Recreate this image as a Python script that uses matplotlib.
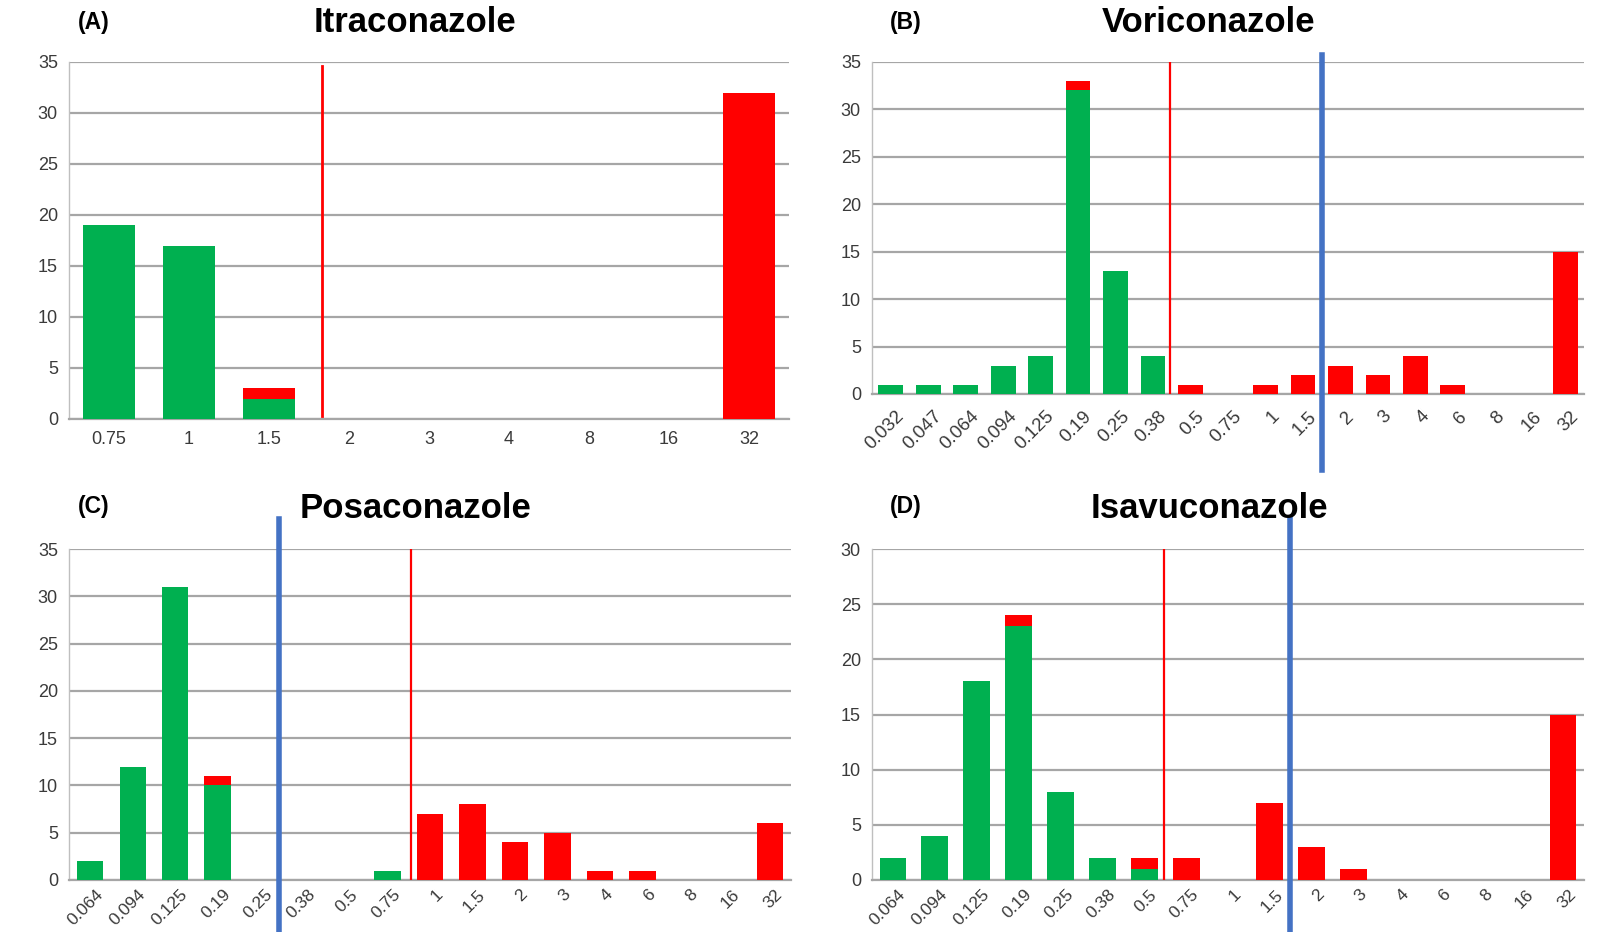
import matplotlib
matplotlib.use("Agg")
import matplotlib.pyplot as plt
import matplotlib.transforms as mtransforms
import numpy as np

plt.rcParams['font.family'] = ['Liberation Sans', 'DejaVu Sans']

GREEN = '#00B050'
RED = '#FF0000'
BLUE = '#4472C4'
GRID = '#A6A6A6'
TXT = '#3A3A3A'

# ---- data ----
itra_cats = ['0.75', '1', '1.5', '2', '3', '4', '8', '16', '32']
itra_green = [19, 17, 2, 0, 0, 0, 0, 0, 0]
itra_red = [0, 0, 1, 0, 0, 0, 0, 0, 32]

vori_cats = ['0.032', '0.047', '0.064', '0.094', '0.125', '0.19', '0.25', '0.38', '0.5',
             '0.75', '1', '1.5', '2', '3', '4', '6', '8', '16', '32']
vori_green = [1, 1, 1, 3, 4, 32, 13, 4, 0, 0, 0, 0, 0, 0, 0, 0, 0, 0, 0]
vori_red = [0, 0, 0, 0, 0, 1, 0, 0, 1, 0, 1, 2, 3, 2, 4, 1, 0, 0, 15]

posa_cats = ['0.064', '0.094', '0.125', '0.19', '0.25', '0.38', '0.5', '0.75', '1', '1.5',
             '2', '3', '4', '6', '8', '16', '32']
posa_green = [2, 12, 31, 10, 0, 0, 0, 1, 0, 0, 0, 0, 0, 0, 0, 0, 0]
posa_red = [0, 0, 0, 1, 0, 0, 0, 0, 7, 8, 4, 5, 1, 1, 0, 0, 6]

isa_cats = ['0.064', '0.094', '0.125', '0.19', '0.25', '0.38', '0.5', '0.75', '1', '1.5',
            '2', '3', '4', '6', '8', '16', '32']
isa_green = [2, 4, 18, 23, 8, 2, 1, 0, 0, 0, 0, 0, 0, 0, 0, 0, 0]
isa_red = [0, 0, 0, 1, 0, 0, 1, 2, 0, 7, 3, 1, 0, 0, 0, 0, 15]

# breakpoint line positions (in category index units)
itra_red_line = 2.66
vori_red_line, vori_blue_line = 7.45, 11.5
posa_red_line, posa_blue_line = 7.55, 4.45
isa_red_line, isa_blue_line = 6.47, 9.47

fig = plt.figure(figsize=(16.18, 9.32), dpi=100)
W, H = 1618, 932


def make_ax(l, r, t, b):
    return fig.add_axes([l / W, 1 - b / H, (r - l) / W, (b - t) / H])


def draw(ax, cats, green, red, ymax, rotate, bw, lsize=13.5, lpad=10):
    x = np.arange(len(cats))
    ax.bar(x, green, width=bw, color=GREEN, zorder=3)
    ax.bar(x, red, width=bw, bottom=green, color=RED, zorder=3)
    ax.set_xlim(-0.5, len(cats) - 0.5)
    ax.set_ylim(0, ymax)
    ax.set_yticks(np.arange(0, ymax + 1, 5))
    ax.yaxis.grid(True, color=GRID, lw=1.6, zorder=0)
    ax.set_axisbelow(True)
    for s in ['top', 'right']:
        ax.spines[s].set_visible(False)
    ax.spines['left'].set_color('#BFBFBF')
    ax.spines['left'].set_linewidth(1.0)
    ax.spines['bottom'].set_color(GRID)
    ax.spines['bottom'].set_linewidth(1.6)
    ax.tick_params(axis='both', length=0, colors=TXT, labelsize=13)
    ax.tick_params(axis='y', pad=8)
    ax.set_xticks(x)
    if rotate:
        ax.set_xticklabels(cats, rotation=45, ha='right', rotation_mode='anchor',
                           fontsize=lsize)
        ax.tick_params(axis='x', pad=lpad)
        off = mtransforms.ScaledTranslation(5 / 100, 0, fig.dpi_scale_trans)
        for lbl in ax.get_xticklabels():
            lbl.set_transform(lbl.get_transform() + off)
    else:
        ax.set_xticklabels(cats)
        ax.tick_params(axis='x', pad=9)


axA = make_ax(69, 789, 62, 419)
draw(axA, itra_cats, itra_green, itra_red, 35, False, 0.64)
axA.axvline(itra_red_line, ymin=0.008, ymax=0.99, color=RED, lw=2, zorder=4)

axB = make_ax(872, 1584, 62, 394)
draw(axB, vori_cats, vori_green, vori_red, 35, True, 0.66)
axB.axvline(vori_red_line, ymin=0, ymax=1, color=RED, lw=1.6, zorder=4)
axB.axvline(vori_blue_line, ymin=-0.229, ymax=1.021, color=BLUE, lw=4, zorder=5, clip_on=False)

axC = make_ax(69, 791, 549, 880)
draw(axC, posa_cats, posa_green, posa_red, 35, True, 0.62, lsize=12.5, lpad=5)
axC.axvline(posa_red_line, ymin=0, ymax=1, color=RED, lw=1.6, zorder=4)
axC.axvline(posa_blue_line, ymin=-0.16, ymax=1.09, color=BLUE, lw=4, zorder=5, clip_on=False)

axD = make_ax(872, 1584, 549, 880)
draw(axD, isa_cats, isa_green, isa_red, 30, True, 0.64, lsize=12.5, lpad=5)
axD.axvline(isa_red_line, ymin=0, ymax=1, color=RED, lw=1.6, zorder=4)
axD.axvline(isa_blue_line, ymin=-0.16, ymax=1.09, color=BLUE, lw=4, zorder=5, clip_on=False)

# titles and panel labels
titles = [('(A)', 'Itraconazole', 94, 415, 23),
          ('(B)', 'Voriconazole', 906, 1209, 23),
          ('(C)', 'Posaconazole', 94, 416, 508),
          ('(D)', 'Isavuconazole', 906, 1209, 508)]
for lab, title, lx, tx, ty in titles:
    fig.text(lx / W, 1 - (ty - 1) / H, lab, ha='center', va='center', fontsize=16.5,
             fontweight='bold', color='black')
    fig.text(tx / W, 1 - ty / H, title, ha='center', va='center', fontsize=25,
             fontweight='bold', color='black')

fig.savefig('out.png', dpi=100)
